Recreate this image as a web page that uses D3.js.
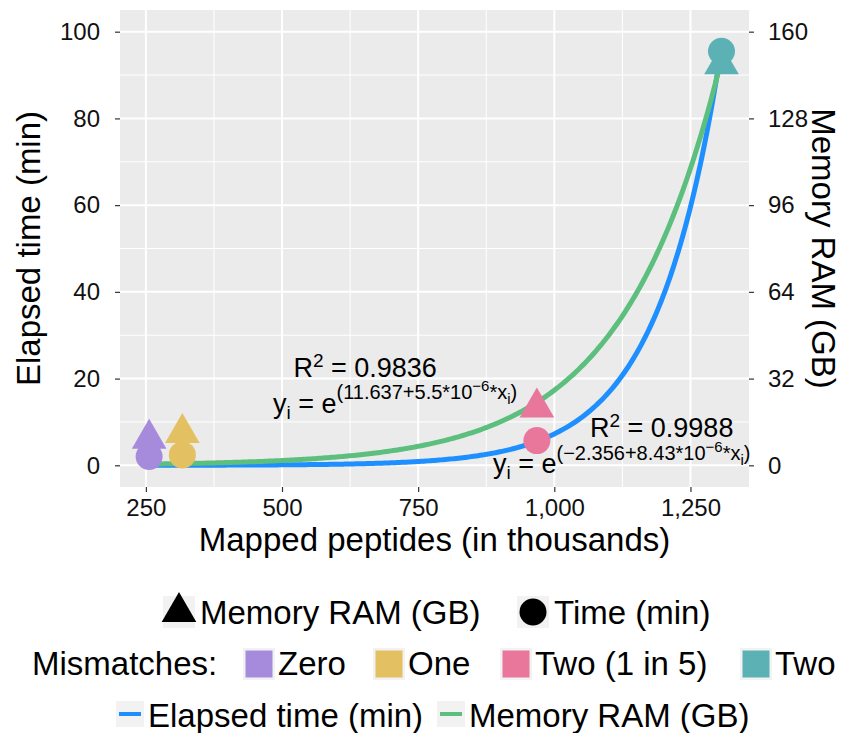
<!doctype html>
<html lang="en">
<head>
<meta charset="utf-8">
<title>Mapped peptides vs elapsed time and memory</title>
<style>
 body{margin:0;background:#fff;}
 svg{font-family:"Liberation Sans",Arial,sans-serif;}
 text{white-space:pre;}
</style>
<script src="https://cdnjs.cloudflare.com/ajax/libs/d3/7.8.5/d3.min.js"></script>
</head>
<body>
<svg width="846" height="733"></svg>
<script>
// values
const mismatch=["Zero","One","Two (1 in 5)","Two"];
const peptides=[256,317,968,1307];      // thousands
const timeMin=[2.05,2.4,5.7,95.5];
const memoryGB=[9.8,11.9,21.3,148];
const colors=["#a68bdd","#e3c062","#e8779b","#5bb1b4"];

const xTicks=[250,500,750,1000,1250];
const xMinor=[375,625,875,1125];
const timeTicks=[0,20,40,60,80,100];
const timeMinor=[10,30,50,70,90];
const memTicks=[0,32,64,96,128,160];

// fitted exponentials printed on the chart (x in peptides)
const timeFit={a:-2.356,b:8.43e-6};   // seconds
const memFit={a:11.637,b:5.5e-6};     // kB

const svg=d3.select("svg");
const panel={left:120,right:749,top:10,bottom:487};

const x=d3.scaleLinear().domain([202.5,1357.5]).range([panel.left,panel.right]);
const yTime=d3.scaleLinear().domain([-5,105]).range([panel.bottom,panel.top]);
const yMem=d3.scaleLinear().domain([-8,168]).range([panel.bottom,panel.top]);

// panel + grid
svg.append("rect")
 .attr("x",panel.left).attr("y",panel.top)
 .attr("width",panel.right-panel.left).attr("height",panel.bottom-panel.top)
 .attr("fill","#ebebeb");

const grid=svg.append("g");
grid.selectAll(".vminor").data(xMinor).enter().append("line")
 .attr("x1",d=>x(d)).attr("x2",d=>x(d)).attr("y1",panel.top).attr("y2",panel.bottom)
 .attr("stroke","#fff").attr("stroke-width",1);
grid.selectAll(".hminor").data(timeMinor).enter().append("line")
 .attr("y1",d=>yTime(d)).attr("y2",d=>yTime(d)).attr("x1",panel.left).attr("x2",panel.right)
 .attr("stroke","#fff").attr("stroke-width",1);
grid.selectAll(".vmajor").data(xTicks).enter().append("line")
 .attr("x1",d=>x(d)).attr("x2",d=>x(d)).attr("y1",panel.top).attr("y2",panel.bottom)
 .attr("stroke","#fff").attr("stroke-width",2);
grid.selectAll(".hmajor").data(timeTicks).enter().append("line")
 .attr("y1",d=>yTime(d)).attr("y2",d=>yTime(d)).attr("x1",panel.left).attr("x2",panel.right)
 .attr("stroke","#fff").attr("stroke-width",2);

// fitted curves
const xs=d3.range(peptides[0],peptides[3]+0.1,4);
const timeCurve=xs.map(p=>[p,Math.exp(timeFit.a+timeFit.b*p*1000)/60]);
const memCurve=xs.map(p=>[p,Math.exp(memFit.a+memFit.b*p*1000)/1e6]);

svg.append("path").datum(timeCurve)
 .attr("d",d3.line().x(d=>x(d[0])).y(d=>yTime(d[1])))
 .attr("fill","none").attr("stroke","#1e8fff").attr("stroke-width",5);
svg.append("path").datum(memCurve)
 .attr("d",d3.line().x(d=>x(d[0])).y(d=>yMem(d[1])))
 .attr("fill","none").attr("stroke","#5cbf7d").attr("stroke-width",5);

// points
const tri=d3.symbol(d3.symbolTriangle,520);
const circ=d3.symbol(d3.symbolCircle,Math.PI*13.5*13.5);
svg.append("g").selectAll("path").data(peptides).enter().append("path")
 .attr("d",tri)
 .attr("transform",(d,i)=>`translate(${x(d)},${yMem(memoryGB[i])})`)
 .attr("fill",(d,i)=>colors[i]);
svg.append("g").selectAll("path").data(peptides).enter().append("path")
 .attr("d",circ)
 .attr("transform",(d,i)=>`translate(${x(d)},${yTime(timeMin[i])})`)
 .attr("fill",(d,i)=>colors[i]);

// annotations
function rich(px,py,parts){
 const t=svg.append("text").attr("x",px).attr("y",py).attr("fill","#000");
 let cur=0;
 parts.forEach(([s,size,off])=>{
  t.append("tspan").attr("font-size",size).attr("dy",off-cur).text(s);
  cur=off;
 });
}
rich(x(521),yTime(20.4),[["R",27,0],["2",19,-10],[" = 0.9836",27,0]]);
rich(x(483.4),yTime(12.07),[["y",27,0],["i",19,6],[" = e",27,0],["(11.637+5.5*10",20,-14],
 ["\u22126",15,-22],["*x",20,-14],["i",15,-9],[")",20,-14]]);
rich(x(1065.5),yTime(6.53),[["R",27,0],["2",19,-10],[" = 0.9988",27,0]]);
rich(x(887.4),yTime(-1.77),[["y",27,0],["i",19,6],[" = e",27,0],["(\u22122.356+8.43*10",20,-13],
 ["\u22126",15,-21],["*x",20,-13],["i",15,-8],[")",20,-13]]);

// axes
function styleAxis(g){
 g.select(".domain").remove();
 g.selectAll("line").attr("stroke","#333").attr("stroke-width",1.2);
 g.selectAll("text").attr("fill","#111").style("font-size","24px").style("font-family","Liberation Sans, Arial, sans-serif");
}
svg.append("g").attr("transform",`translate(0,${panel.bottom})`)
 .call(d3.axisBottom(x).tickValues(xTicks).tickSize(5).tickPadding(7).tickFormat(d3.format(",")))
 .call(styleAxis);
svg.append("g").attr("transform",`translate(${panel.left},0)`)
 .call(d3.axisLeft(yTime).tickValues(timeTicks).tickSize(5).tickPadding(15))
 .call(styleAxis);
svg.append("g").attr("transform",`translate(${panel.right},0)`)
 .call(d3.axisRight(yMem).tickValues(memTicks).tickSize(5).tickPadding(14))
 .call(styleAxis);

// axis titles
const midY=(panel.top+panel.bottom)/2;
svg.append("text").text("Mapped peptides (in thousands)")
 .attr("x",(panel.left+panel.right)/2).attr("y",551)
 .attr("text-anchor","middle").style("font-size","33px");
svg.append("text").text("Elapsed time (min)")
 .attr("transform",`translate(40,${midY}) rotate(-90)`)
 .attr("text-anchor","middle").style("font-size","33px");
svg.append("text").text("Memory RAM (GB)")
 .attr("transform",`translate(812,${midY}) rotate(90)`)
 .attr("text-anchor","middle").style("font-size","33px");

// legend
const leg=svg.append("g").style("font-size","33px");
// row 1: shapes
leg.append("rect").attr("x",163).attr("y",596).attr("width",32).attr("height",32).attr("fill","#f2f2f2");
leg.append("path").attr("d",tri).attr("transform","translate(179,612)").attr("fill","#000");
leg.append("text").attr("x",200).attr("y",624).text("Memory RAM (GB)");
leg.append("rect").attr("x",517).attr("y",596).attr("width",32).attr("height",32).attr("fill","#f2f2f2");
leg.append("path").attr("d",circ).attr("transform","translate(533,612)").attr("fill","#000");
leg.append("text").attr("x",554).attr("y",624).text("Time (min)");
// row 2: mismatches
leg.append("text").attr("x",32).attr("y",675).text("Mismatches:");
const keyX=[243,373,500,740];
mismatch.forEach((m,i)=>{
 leg.append("rect").attr("x",keyX[i]).attr("y",648).attr("width",32).attr("height",32).attr("fill","#f2f2f2");
 leg.append("rect").attr("x",keyX[i]+2.5).attr("y",650.5).attr("width",27).attr("height",27).attr("fill",colors[i]);
 leg.append("text").attr("x",keyX[i]+35).attr("y",675).text(m);
});
// row 3: curves
const lineKeys=[{x:116,c:"#1e8fff",t:"Elapsed time (min)"},{x:437,c:"#5cbf7d",t:"Memory RAM (GB)"}];
lineKeys.forEach(k=>{
 leg.append("rect").attr("x",k.x).attr("y",701).attr("width",28).attr("height",26).attr("fill","#f2f2f2");
 leg.append("line").attr("x1",k.x+3).attr("x2",k.x+25).attr("y1",714).attr("y2",714)
  .attr("stroke",k.c).attr("stroke-width",4);
 leg.append("text").attr("x",k.x+32).attr("y",727).text(k.t);
});
</script>
</body>
</html>
